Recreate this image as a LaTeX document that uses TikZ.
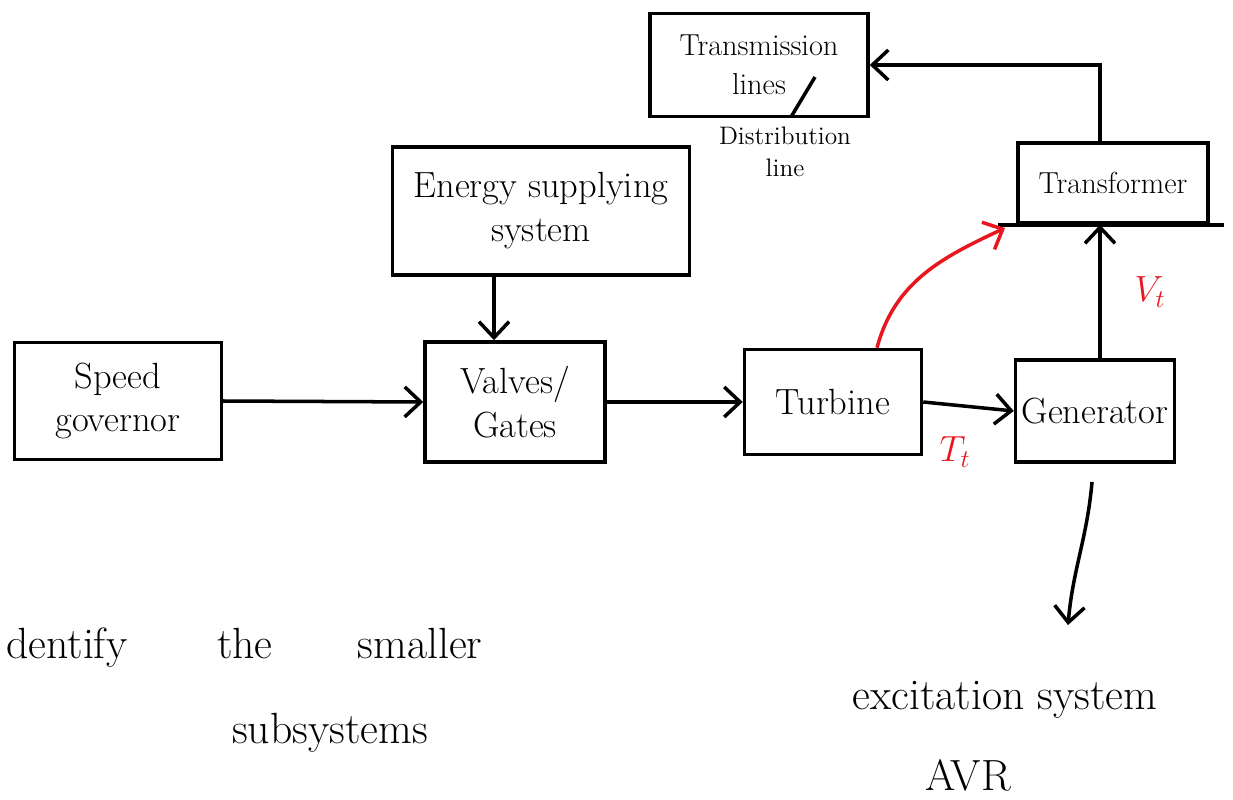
\documentclass[tikz,border=0pt]{standalone}
\usetikzlibrary{arrows.meta}
\definecolor{inkred}{RGB}{232,22,30}
\begin{document}
\begin{tikzpicture}[x=0.02cm,y=-0.02cm,
  blockbox/.style={draw,line width=2pt,align=center,inner sep=2pt},
  flow/.style={line width=2pt,-{Straight Barb[length=3.2mm,width=6mm,line width=2pt]}},
  plain/.style={line width=2pt},
  redflow/.style={flow,inkred},
  lbl/.style={align=center}]
\useasboundingbox (0,0) rectangle (1233,800);

% blocks of the power plant chain
\node[blockbox,minimum width=4.14cm,minimum height=2.34cm,font=\huge] (S) at (118,401) {Speed\\governor};
\node[blockbox,minimum width=3.6cm,minimum height=2.4cm,font=\huge] (V) at (515,402) {Valves/\\Gates};
\node[blockbox,minimum width=3.54cm,minimum height=2.1cm,font=\huge] (Tu) at (833,402) {Turbine};
\node[blockbox,minimum width=3.18cm,minimum height=2.04cm,font=\huge] (G) at (1095,411) {Generator};
\node[blockbox,minimum width=3.8cm,minimum height=1.6cm,font=\LARGE] (Tr) at (1113,183) {Transformer};
\node[blockbox,minimum width=4.36cm,minimum height=2.06cm,font=\LARGE] (Tm) at (759,65) {Transmission\\lines};
\node[blockbox,minimum width=5.94cm,minimum height=2.56cm,font=\huge] (E) at (541,211) {Energy supplying\\system};

% free labels
\node[lbl,font=\Large] (D) at (785,152) {Distribution\\line};
\node[lbl,font=\huge,text=inkred] (Tt) at (955,452) {$T_t$};
\node[lbl,font=\huge,text=inkred] (Vt) at (1150,292) {$V_t$};
\node[lbl,font=\Huge] (X) at (1005,700) {excitation system};
\node[lbl,font=\Huge] (A) at (968,775) {AVR};
\node[anchor=west,font=\Huge] (I) at (0,648) {dentify\hspace{1.8cm}the\hspace{1.7cm}smaller};
\node[font=\Huge] (Sub) at (330,733) {subsystems};

% extended base line of the transformer block
\draw[plain] ([xshift=-0.36cm]Tr.south west) -- ([xshift=0.28cm]Tr.south east);

% connectors
\draw[flow] (S.east) -- (V.west);
\draw[flow] ([xshift=-0.42cm]V.north |- E.south) -- ([xshift=-0.42cm]V.north);
\draw[flow] (V.east) -- (Tu.west);
\draw[flow] (Tu.east) -- (G.west);
\draw[flow] ([xshift=0.1cm]G.north) -- ([xshift=0.1cm]G.north |- Tr.south);
\draw[flow] ([xshift=-0.26cm]Tr.north) |- (Tm.east);

\coordinate (rc) at (1005,228);
\draw[redflow] ([xshift=0.88cm]Tu.north) to[out=75,in=205] (rc);

% pointer from the transmission label to the distribution label
\coordinate (slashA) at (815,77);
\coordinate (slashB) at (791,117);
\draw[plain] (slashA) -- (slashB);

\coordinate (xa) at (1092,482);
\coordinate (xb) at (1068,625);
\draw[flow] (xa) to[out=-95,in=85] (xb);
\end{tikzpicture}
\end{document}
